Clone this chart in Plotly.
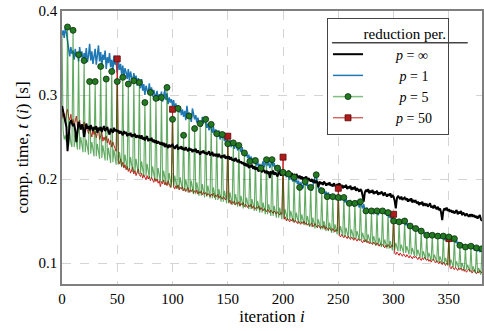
import plotly.graph_objects as go

# iteration index
iters = list(range(381))

# computation time per iteration in ms
t_inf = [
    287, 281, 276, 271, 262, 233, 251, 266, 270, 267,
    263, 266, 258, 244, 262, 268, 264, 259, 265, 261,
    250, 262, 266, 260, 263, 258, 264, 261, 257, 262,
    259, 263, 255, 261, 258, 262, 256, 260, 263, 257,
    259, 262, 256, 253, 260, 258, 255, 261, 257, 259,
    256, 258, 254, 257, 255, 252, 257, 254, 256, 251,
    254, 252, 255, 250, 253, 251, 254, 249, 252, 250,
    251, 248, 252, 247, 250, 246, 249, 251, 245, 248,
    246, 249, 244, 247, 243, 246, 242, 245, 243, 241,
    244, 240, 243, 238, 242, 239, 237, 241, 238, 240,
    241, 238, 236, 239, 240, 235, 238, 236, 239, 235,
    237, 234, 238, 235, 233, 237, 234, 236, 232, 235,
    233, 236, 231, 234, 232, 229, 233, 231, 234, 230,
    232, 229, 231, 233, 228, 230, 232, 227, 230, 228,
    229, 226, 230, 227, 225, 228, 226, 229, 224, 227,
    225, 227, 223, 226, 222, 224, 221, 225, 222, 220,
    223, 219, 221, 218, 220, 216, 219, 215, 218, 213,
    216, 214, 217, 212, 215, 211, 214, 212, 209, 213,
    211, 208, 212, 209, 207, 210, 206, 209, 201, 208,
    207, 210, 205, 208, 206, 203, 207, 209, 204, 207,
    209, 205, 208, 204, 207, 210, 206, 203, 207, 204,
    205, 202, 206, 203, 201, 204, 200, 203, 199, 202,
    200, 203, 198, 201, 199, 197, 200, 196, 199, 195,
    198, 196, 190, 197, 194, 196, 193, 197, 195, 192,
    195, 193, 196, 192, 194, 191, 195, 193, 190, 194,
    192, 195, 191, 193, 189, 192, 190, 193, 188, 191,
    189, 192, 187, 190, 188, 191, 186, 189, 187, 185,
    188, 186, 180, 173, 184, 187, 185, 188, 183, 186,
    184, 187, 182, 185, 183, 186, 181, 184, 182, 185,
    183, 180, 184, 181, 179, 182, 180, 183, 178, 181,
    179, 174, 165, 177, 180, 178, 176, 179, 175, 177,
    178, 175, 177, 173, 176, 174, 177, 172, 175, 173,
    174, 171, 173, 169, 172, 170, 173, 168, 171, 169,
    170, 167, 169, 171, 166, 168, 165, 169, 166, 164,
    167, 163, 165, 160, 151, 162, 165, 163, 166, 162,
    164, 161, 163, 160, 162, 159, 161, 163, 158, 161,
    159, 162, 157, 160, 158, 156, 159, 157, 155, 158,
    156, 158, 155, 157, 154, 156, 153, 155, 157, 152,
    150,
]

t_p1 = [
    371, 377, 368, 380, 374, 364, 352, 346, 357, 349,
    353, 342, 355, 346, 351, 340, 357, 345, 352, 338,
    350, 343, 356, 339, 347, 361, 341, 352, 337, 348,
    355, 336, 346, 359, 340, 351, 334, 348, 342, 353,
    331, 345, 338, 350, 333, 342, 329, 347, 336, 339,
    326, 341, 330, 337, 324, 335, 321, 332, 327, 319,
    331, 317, 328, 322, 314, 326, 318, 323, 311, 320,
    316, 308, 319, 305, 313, 300, 311, 306, 302, 314,
    303, 309, 298, 306, 300, 296, 305, 293, 301, 297,
    304, 292, 299, 306, 294, 302, 289, 297, 291, 295,
    287, 294, 283, 290, 281, 288, 279, 285, 276, 283,
    274, 281, 270, 287, 277, 279, 273, 268, 284, 275,
    271, 276, 267, 273, 264, 269, 262, 274, 266, 271,
    268, 261, 266, 258, 264, 260, 255, 262, 253, 259,
    256, 250, 258, 247, 253, 249, 252, 245, 250, 243,
    246, 240, 247, 238, 244, 241, 236, 243, 239, 234,
    240, 235, 232, 238, 229, 233, 227, 231, 225, 229,
    222, 227, 219, 225, 218, 223, 216, 221, 214, 218,
    212, 217, 221, 214, 219, 224, 216, 220, 213, 218,
    222, 215, 219, 211, 216, 212, 207, 213, 209, 205,
    210, 204, 208, 202, 207, 205, 199, 204, 200, 197,
    203, 196, 200, 194, 198, 191, 196, 193, 189, 195,
    198, 192, 195, 188, 193, 190, 186, 192, 198, 203,
    204, 194, 189, 184, 190, 187, 183, 188, 181, 185,
    180, 184, 178, 182, 176, 180, 177, 181, 175, 179,
    177, 181, 174, 179, 176, 178, 172, 176, 170, 174,
    171, 175, 169, 173, 167, 172, 168, 174, 170, 166,
    173, 168, 165, 170, 163, 161, 166, 160, 164, 159,
    162, 165, 158, 163, 160, 162, 157, 161, 164, 159,
    161, 165, 158, 162, 156, 160, 154, 157, 152, 155,
    150, 153, 147, 152, 148, 150, 146, 151, 147, 152,
    149, 145, 148, 143, 147, 144, 141, 145, 139, 143,
    141, 138, 142, 137, 140, 138, 135, 139, 134, 136,
    133, 137, 131, 135, 130, 133, 136, 131, 134, 130,
    132, 135, 129, 133, 130, 132, 127, 131, 128, 133,
    131, 127, 130, 126, 129, 128, 124, 127, 122, 125,
    121, 124, 118, 122, 119, 120, 116, 121, 118, 122,
    120, 117, 121, 115, 119, 118, 114, 117, 113, 116,
    116,
]

t_p5 = [
    372, 258, 247, 252, 244,
    381, 240, 256, 243, 238,
    377, 238, 253, 241, 235,
    348, 235, 250, 238, 232,
    341, 232, 247, 236, 229,
    316, 230, 244, 233, 227,
    316, 227, 242, 230, 224,
    334, 225, 240, 228, 222,
    319, 222, 237, 226, 219,
    328, 220, 235, 223, 217,
    316, 217, 232, 220, 214,
    321, 214, 229, 217, 211,
    313, 211, 226, 214, 208,
    317, 209, 224, 212, 206,
    315, 206, 221, 209, 203,
    291, 204, 218, 207, 201,
    303, 201, 215, 204, 198,
    296, 199, 213, 202, 196,
    297, 196, 210, 199, 193,
    309, 193, 207, 196, 190,
    271, 190, 204, 193, 188,
    284, 188, 202, 191, 186,
    252, 186, 200, 189, 184,
    275, 184, 198, 187, 182,
    260, 182, 196, 185, 180,
    266, 180, 194, 183, 178,
    271, 179, 192, 182, 177,
    265, 177, 190, 180, 175,
    254, 175, 188, 178, 173,
    253, 173, 186, 176, 171,
    242, 171, 184, 174, 169,
    243, 169, 182, 172, 167,
    240, 167, 180, 170, 165,
    231, 166, 178, 169, 164,
    221, 164, 176, 167, 162,
    222, 162, 174, 165, 160,
    213, 160, 172, 163, 158,
    223, 158, 170, 161, 156,
    223, 156, 168, 159, 154,
    213, 154, 166, 157, 152,
    208, 153, 164, 156, 151,
    206, 151, 162, 154, 149,
    202, 149, 160, 152, 147,
    190, 147, 158, 150, 145,
    197, 145, 156, 148, 143,
    190, 143, 154, 146, 141,
    205, 142, 152, 145, 140,
    186, 140, 150, 143, 138,
    179, 138, 148, 141, 136,
    179, 136, 146, 139, 134,
    178, 134, 144, 137, 132,
    178, 132, 142, 135, 130,
    171, 130, 140, 133, 128,
    171, 129, 138, 132, 127,
    173, 127, 136, 130, 125,
    162, 125, 134, 128, 123,
    162, 123, 132, 126, 121,
    162, 121, 130, 124, 119,
    162, 119, 128, 122, 117,
    160, 117, 126, 120, 115,
    150, 116, 124, 119, 114,
    149, 114, 122, 117, 112,
    150, 112, 120, 115, 110,
    144, 110, 118, 113, 108,
    141, 108, 116, 111, 106,
    138, 106, 114, 109, 104,
    133, 105, 112, 108, 103,
    133, 103, 110, 106, 101,
    132, 101, 108, 104, 99,
    132, 99, 106, 102, 97,
    131, 97, 104, 100, 95,
    129, 95, 102, 98, 93,
    121, 93, 100, 96, 91,
    119, 92, 98, 95, 90,
    120, 90, 96, 93, 88,
    118, 88, 94, 91, 86,
    117,
]

t_p50 = [
    272, 281, 276, 268, 279, 283, 274, 270, 277, 266,
    271, 264, 269, 275, 262, 266, 270, 259, 265, 261,
    268, 257, 263, 259, 254, 262, 256, 250, 258, 253,
    257, 249, 254, 260, 247, 252, 256, 245, 250, 246,
    251, 243, 248, 241, 246, 238, 244, 240, 236, 233,
    343, 222, 218, 224, 215, 220, 213, 217, 211, 215,
    209, 213, 207, 211, 214, 206, 210, 204, 208, 212,
    205, 203, 207, 201, 205, 202, 199, 204, 200, 203,
    198, 202, 199, 196, 201, 197, 200, 195, 198, 191,
    197, 194, 199, 193, 196, 192, 198, 194, 190, 195,
    283, 191, 188, 192, 189, 193, 187, 190, 188, 191,
    186, 189, 185, 188, 190, 184, 187, 185, 188, 183,
    186, 184, 187, 182, 185, 183, 186, 181, 184, 182,
    184, 180, 183, 181, 179, 182, 180, 183, 178, 181,
    179, 182, 177, 180, 178, 176, 179, 177, 175, 178,
    251, 172, 175, 170, 173, 171, 174, 169, 172, 170,
    173, 168, 171, 169, 172, 167, 170, 168, 166, 169,
    167, 170, 165, 168, 166, 164, 167, 165, 168, 163,
    166, 164, 162, 165, 163, 161, 164, 162, 160, 163,
    161, 159, 162, 160, 158, 161, 159, 157, 160, 158,
    226, 152, 155, 150, 153, 151, 149, 152, 150, 153,
    148, 151, 149, 147, 150, 148, 146, 149, 147, 150,
    146, 148, 145, 147, 144, 146, 148, 143, 145, 147,
    144, 142, 145, 143, 141, 144, 142, 145, 140, 143,
    141, 139, 142, 140, 138, 141, 139, 137, 140, 138,
    189, 133, 131, 134, 132, 130, 133, 131, 129, 132,
    130, 128, 131, 129, 127, 130, 128, 126, 129, 127,
    128, 126, 124, 127, 125, 128, 124, 126, 123, 125,
    124, 122, 125, 123, 121, 124, 122, 120, 123, 121,
    122, 120, 118, 121, 119, 122, 120, 118, 121, 119,
    158, 112, 110, 113, 111, 109, 112, 110, 108, 111,
    109, 107, 110, 108, 106, 109, 107, 105, 108, 106,
    108, 106, 104, 107, 105, 103, 106, 104, 107, 105,
    103, 105, 102, 104, 101, 103, 105, 102, 100, 103,
    101, 99, 102, 100, 98, 101, 99, 97, 100, 98,
    129, 95, 93, 96, 94, 92, 95, 93, 91, 94,
    92, 94, 91, 93, 90, 92, 89, 91, 93, 90,
    91, 88, 90, 92, 89, 87, 90, 88, 91, 89,
    88,
]

# iterations at which the reduction happens
p5_marks = list(range(5, 381, 5))
p50_marks = [50, 100, 150, 200, 250, 300, 350]

for s in (t_inf, t_p1, t_p5, t_p50):
    assert len(s) == len(iters), len(s)


def sec(ms):
    return [v / 1000 for v in ms]


FONT = "Liberation Serif, DejaVu Serif, serif"
green_line = "rgba(0,118,0,0.62)"
green_dot = "#237a23"
red = "#cc2222"
pad = "\u00a0"

fig = go.Figure()

fig.add_trace(go.Scatter(x=iters, y=sec(t_p1), mode="lines", name=pad * 9 + "<i>p</i> = 1" + pad * 3,
                         line=dict(color="#1f77b4", width=1.5), legendrank=2))
fig.add_trace(go.Scatter(x=iters, y=sec(t_p50), mode="lines", showlegend=False,
                         line=dict(color=red, width=1)))
fig.add_trace(go.Scatter(x=iters, y=sec(t_p5), mode="lines", showlegend=False,
                         line=dict(color=green_line, width=1.1)))
fig.add_trace(go.Scatter(x=iters, y=sec(t_inf), mode="lines", name=pad * 8 + "<i>p</i> = ∞" + pad * 3,
                         line=dict(color="black", width=2), legendrank=1))
fig.add_trace(go.Scatter(x=p50_marks, y=sec([t_p50[i] for i in p50_marks]), mode="markers",
                         showlegend=False,
                         marker=dict(symbol="square", size=6, color="#b01c1c",
                                     line=dict(color="#5a0a0a", width=0.8))))
fig.add_trace(go.Scatter(x=p5_marks, y=sec([t_p5[i] for i in p5_marks]), mode="markers",
                         showlegend=False,
                         marker=dict(symbol="circle", size=6, color=green_dot,
                                     line=dict(color="#0b2e0b", width=0.8))))
# legend-only entries for the series drawn as line + markers
fig.add_trace(go.Scatter(x=[None], y=[None], mode="lines+markers", name=pad * 9 + "<i>p</i> = 5" + pad * 3,
                         line=dict(color="rgba(0,128,0,0.5)", width=1.5),
                         marker=dict(size=6, color=green_dot, line=dict(color="#0b2e0b", width=0.8)),
                         legendrank=3))
fig.add_trace(go.Scatter(x=[None], y=[None], mode="lines+markers", name=pad * 8 + "<i>p</i> = 50" + pad * 3,
                         line=dict(color=red, width=1),
                         marker=dict(symbol="square", size=6, color="#b01c1c",
                                     line=dict(color="#5a0a0a", width=0.8)),
                         legendrank=4))

axis_style = dict(showline=True, linecolor="#7f7f7f", linewidth=1.5, mirror=True,
                  showgrid=True, gridcolor="#d4d4d4", griddash="dash", gridwidth=0.8,
                  zeroline=False, ticks="", automargin=False,
                  tickfont=dict(family=FONT, size=15, color="black"))

fig.update_xaxes(range=[0, 380], dtick=50, tick0=0,
                 title=dict(text="iteration <i>i</i>", font=dict(family=FONT, size=17), standoff=4),
                 **axis_style)
fig.update_yaxes(range=[0.075, 0.4], dtick=0.1, tick0=0, tickformat=".1f",
                 title=dict(text="comp. time, <i>t</i> (<i>i</i>) [s]", font=dict(family=FONT, size=17),
                            standoff=6),
                 **axis_style)

fig.update_layout(
    width=484, height=331,
    margin=dict(l=62, r=2, t=11, b=47),
    paper_bgcolor="white", plot_bgcolor="white",
    font=dict(family=FONT, size=14, color="black"),
    legend=dict(x=0.631, y=0.974, xanchor="left", yanchor="top",
                bgcolor="rgba(0,0,0,0)", bordercolor="#444444", borderwidth=1,
                title=dict(text="reduction per.", side="top right", font=dict(family=FONT, size=15)),
                font=dict(family=FONT, size=14), itemwidth=30, tracegroupgap=0),
    shapes=[
        # white legend background, then the rule under the legend title
        dict(type="rect", xref="paper", yref="paper", x0=0.631, x1=0.984, y0=0.57, y1=0.974,
             fillcolor="white", line=dict(width=0), layer="above"),
        dict(type="line", xref="paper", yref="paper", x0=0.643, x1=0.966,
             y0=0.884, y1=0.884, line=dict(color="#444444", width=1.5), layer="above"),
    ],
)

# drop the default page margin so the figure sits at the window's corner
fig.write_html("out.html", post_script="document.body.style.margin='0';",
               config={"displayModeBar": False})
